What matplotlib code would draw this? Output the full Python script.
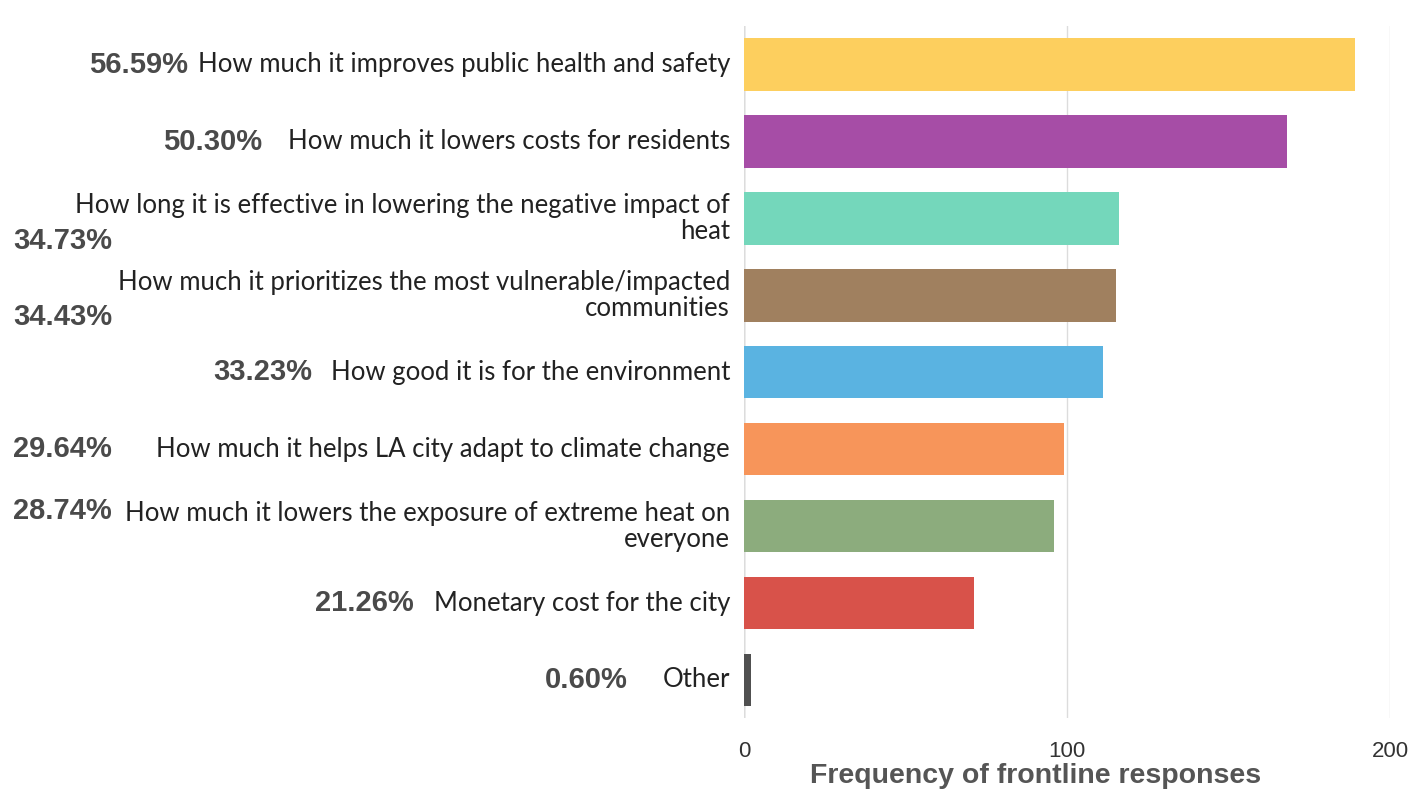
import matplotlib.pyplot as plt
from matplotlib import transforms

# survey data (frequency of frontline responses, share of respondents)
labels = ['How much it improves public health and safety',
          'How much it lowers costs for residents',
          'How long it is effective in lowering the negative impact of\nheat',
          'How much it prioritizes the most vulnerable/impacted\ncommunities',
          'How good it is for the environment',
          'How much it helps LA city adapt to climate change',
          'How much it lowers the exposure of extreme heat on\neveryone',
          'Monetary cost for the city',
          'Other']
counts = [189, 168, 116, 115, 111, 99, 96, 71, 2]
pcts = ['56.59%', '50.30%', '34.73%', '34.43%', '33.23%', '29.64%', '28.74%', '21.26%', '0.60%']
colors = ['#FDCF5E', '#A64DA6', '#74D7BB', '#A0805F', '#5AB3E1',
          '#F7955A', '#8CAC7D', '#D8524A', '#505050']

# where each percentage sits (fig-fraction x of right edge, y offset from bar centre)
pct_x = [0.1333, 0.1858, 0.0794, 0.0794, 0.2213, 0.0794, 0.0794, 0.2936, 0.4454]
pct_dy = [0, 0, 0.29, 0.28, 0, 0, -0.2, 0, 0]
line_gap = 0.34

fig = plt.figure(figsize=(14.1, 7.93), dpi=100)
ax = fig.add_axes([0.528, 0.094, 0.458, 0.873])

y = range(len(counts))
ax.barh(y, counts, height=0.68, color=colors, zorder=3)
ax.set_ylim(len(counts) - 0.5, -0.5)
ax.set_xlim(0, 200)
ax.set_xticks([0, 100, 200])
ax.set_yticks([])
ax.grid(axis='x', color='#dcdcdc', lw=1, zorder=0)
for s in ax.spines.values():
    s.set_visible(False)
ax.axvline(0, color='#b0b0b0', lw=1, zorder=1)
ax.tick_params(axis='x', length=0, pad=16, labelsize=16, labelcolor='#333333')
for t in ax.get_xticklabels():
    t.set_family('Liberation Sans')
fig.text(1036 / 1410, 0.021, 'Frequency of frontline responses', ha='center', va='center',
         fontsize=20.5, fontweight='bold', color='#555555', family='Liberation Sans')

tr = transforms.blended_transform_factory(fig.transFigure, ax.transData)
for i in range(len(labels)):
    lines = labels[i].split('\n')
    n = len(lines)
    for k, line in enumerate(lines):
        ax.text(0.5177, i + (k - (n - 1) / 2) * line_gap, line, transform=tr,
                ha='right', va='center', fontsize=18.5, family='Lato', color='#222222')
    ax.text(pct_x[i], i + pct_dy[i], pcts[i], transform=tr, ha='right', va='center',
            fontsize=21, fontweight='bold', family='Liberation Sans', color='#4a4a4a')

fig.savefig('out.png', dpi=100)
